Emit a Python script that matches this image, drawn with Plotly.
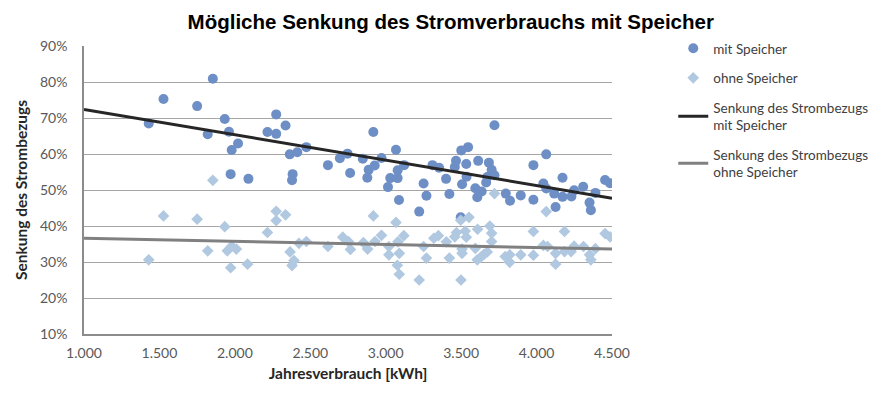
import plotly.graph_objects as go

# Jahresverbrauch [kWh] and Senkung [%] - mit Speicher
mit_x = [1429, 1527, 1750, 1820, 1854, 1933, 1961, 1972, 1979, 2021, 2090,
         2216, 2274, 2274, 2336, 2364, 2379, 2383, 2414, 2474, 2617, 2696,
         2747, 2764, 2848, 2878, 2887, 2918, 2927, 2972, 3015, 3030, 3068,
         3079, 3079, 3088, 3122, 3222, 3251, 3270, 3310, 3354, 3400, 3422,
         3458, 3466, 3497, 3501, 3506, 3534, 3536, 3546, 3594, 3607, 3613,
         3636, 3666, 3673, 3684, 3702, 3721, 3721, 3796, 3824, 3895, 3979,
         3979, 4045, 4064, 4064, 4117, 4126, 4172, 4172, 4231, 4249, 4309,
         4351, 4360, 4390, 4454, 4487]
mit_y = [68.5, 75.3, 73.3, 65.5, 80.9, 69.7, 66.2, 54.4, 61.1, 62.9, 53.1,
         66.1, 71.0, 65.6, 67.9, 59.9, 52.7, 54.4, 60.5, 61.9, 56.9, 58.8,
         60.1, 54.7, 58.7, 53.4, 55.6, 66.1, 56.8, 58.9, 50.8, 53.3, 61.2,
         55.5, 53.3, 47.2, 56.9, 44.0, 51.8, 48.4, 56.9, 56.2, 53.1, 48.9,
         56.4, 58.1, 42.4, 61.0, 51.6, 57.2, 53.7, 61.9, 50.5, 48.0, 58.1,
         49.6, 52.1, 53.6, 57.6, 55.6, 54.1, 68.0, 49.0, 47.0, 48.5, 56.9,
         47.3, 51.8, 59.9, 50.4, 49.0, 45.3, 53.4, 48.1, 48.2, 49.9, 50.9,
         46.5, 44.4, 49.2, 52.8, 51.9]

# ohne Speicher
ohne_x = [1429, 1527, 1750, 1820, 1854, 1933, 1950, 1972, 1979, 2010, 2084,
          2216, 2274, 2274, 2336, 2366, 2379, 2392, 2425, 2474, 2617, 2715,
          2753, 2766, 2852, 2880, 2918, 2929, 2972, 3021, 3021, 3068, 3077,
          3081, 3090, 3090, 3120, 3222, 3251, 3270, 3319, 3349, 3402, 3422,
          3458, 3469, 3497, 3499, 3506, 3506, 3527, 3534, 3552, 3594, 3607,
          3609, 3629, 3651, 3673, 3690, 3702, 3702, 3721, 3792, 3822, 3822,
          3895, 3979, 3979, 4045, 4064, 4073, 4126, 4126, 4185, 4185, 4229,
          4249, 4311, 4351, 4360, 4390, 4454, 4487]
ohne_y = [30.6, 42.8, 41.9, 33.1, 52.7, 39.8, 33.1, 28.4, 34.4, 33.6, 29.4,
          38.2, 44.1, 41.5, 43.1, 32.8, 29.0, 30.4, 35.2, 35.7, 34.3, 36.9,
          35.7, 33.5, 35.4, 33.6, 42.8, 35.7, 37.4, 34.3, 32.0, 41.0, 29.1,
          35.6, 32.4, 26.6, 37.3, 25.0, 34.3, 31.1, 36.6, 37.3, 35.6, 31.1,
          37.0, 38.2, 41.6, 25.0, 33.6, 32.4, 38.6, 36.9, 42.4, 33.8, 30.6,
          39.1, 31.3, 32.1, 32.8, 40.0, 38.0, 35.7, 49.0, 31.5, 32.0, 29.9,
          32.0, 38.5, 31.9, 34.6, 44.0, 34.3, 32.4, 29.4, 38.5, 32.9, 32.9,
          34.4, 34.3, 32.0, 30.6, 33.7, 37.9, 37.0]

# Trendlinien
trend_x = [1000, 4500]
trend_mit = [72.4, 47.7]
trend_ohne = [36.6, 33.6]

x_ticks = [1000, 1500, 2000, 2500, 3000, 3500, 4000, 4500]
x_tick_labels = ["1.000", "1.500", "2.000", "2.500", "3.000", "3.500", "4.000", "4.500"]
y_ticks = [10, 20, 30, 40, 50, 60, 70, 80, 90]
y_tick_labels = ["10%", "20%", "30%", "40%", "50%", "60%", "70%", "80%", "90%"]

label_font = "Lato, 'Open Sans', sans-serif"

fig = go.Figure()
fig.add_trace(go.Scatter(
    x=mit_x, y=mit_y, mode="markers", name="mit Speicher",
    legendgroup="a",
    marker=dict(symbol="circle", size=10, color="#6D8FC6"),
))
fig.add_trace(go.Scatter(
    x=ohne_x, y=ohne_y, mode="markers", name="ohne Speicher",
    legendgroup="b",
    marker=dict(symbol="diamond", size=9, color="#B1C8E1"),
))
fig.add_trace(go.Scatter(
    x=trend_x, y=trend_mit, mode="lines",
    name="Senkung des Strombezugs<br>mit Speicher", legendgroup="c",
    line=dict(color="#262626", width=3),
))
fig.add_trace(go.Scatter(
    x=trend_x, y=trend_ohne, mode="lines",
    name="Senkung des Strombezugs<br>ohne Speicher", legendgroup="d",
    line=dict(color="#808080", width=3),
))

fig.update_layout(
    width=882, height=394,
    margin=dict(l=74, r=278, t=38, b=68),
    paper_bgcolor="white", plot_bgcolor="white",
    title=dict(
        text="<b>Mögliche Senkung des Stromverbrauchs mit Speicher</b>",
        font=dict(family="Liberation Sans, Arial, sans-serif", size=20.5, color="#000000"),
        x=0.502, xanchor="center", y=0.965, yanchor="middle",
    ),
    legend=dict(
        x=1.116, xanchor="left", y=1.045, yanchor="top",
        font=dict(family=label_font, size=13.5, color="#404040"),
        tracegroupgap=9, bgcolor="rgba(0,0,0,0)",
    ),
    xaxis=dict(
        range=[1000, 4500], tickvals=x_ticks, ticktext=x_tick_labels,
        showgrid=False, zeroline=False,
        showline=True, linecolor="#8C8C8C", linewidth=1.5,
        ticklabelstandoff=5,
        tickfont=dict(family=label_font, size=14, color="#595959"),
        title=dict(text="<b>Jahresverbrauch [kWh]</b>",
                   font=dict(family=label_font, size=15.5, color="#262626"),
                   standoff=9),
    ),
    yaxis=dict(
        range=[10, 90], tickvals=y_ticks, ticktext=y_tick_labels,
        showgrid=True, gridcolor="#A6A6A6", gridwidth=1.3, zeroline=False,
        showline=True, linecolor="#8C8C8C", linewidth=1.5,
        ticklabelstandoff=12,
        tickfont=dict(family=label_font, size=14, color="#595959"),
        title=dict(text="<b>Senkung des Strombezugs</b>",
                   font=dict(family=label_font, size=15.5, color="#262626"),
                   standoff=9),
    ),
)

fig.write_html("out.html")
